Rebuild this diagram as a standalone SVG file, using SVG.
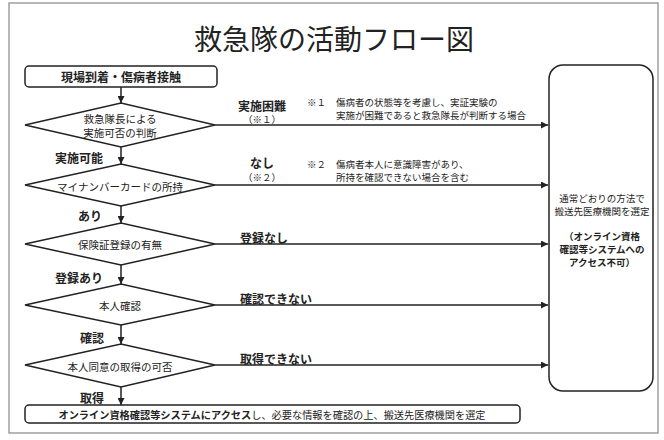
<svg xmlns="http://www.w3.org/2000/svg" width="664" height="440" viewBox="0 0 664 440">
<defs>
<marker id="ah" viewBox="0 0 10 10" refX="10" refY="5" markerWidth="7" markerHeight="7" markerUnits="userSpaceOnUse" orient="auto"><path d="M0,0 L10,5 L0,10 z" fill="#222"/></marker>
<style>
text{font-family:"Noto Sans CJK JP","Noto Sans",sans-serif;fill:#222;dominant-baseline:central}
.t{font-size:28px;text-anchor:middle}
.b{font-weight:700;font-size:12px}
.m{text-anchor:middle}
.d{font-size:10.5px;text-anchor:middle}
.n{font-size:9.5px}
.shape{fill:#fff;stroke:#222;stroke-width:1.5}
.c{stroke:#222;stroke-width:1.5;fill:none;marker-end:url(#ah)}
</style>
</defs>
<rect width="664" height="440" fill="#fff"/>
<rect x="9" y="3" width="649" height="430" fill="#fff" stroke="#888" stroke-width="1.2"/>
<text class="t" x="334" y="38">救急隊の活動フロー図</text>

<g id="connectors">
<line class="c" x1="121" y1="87" x2="121" y2="103"/>
<line class="c" x1="121" y1="147" x2="121" y2="164"/>
<line class="c" x1="121" y1="206" x2="121" y2="223"/>
<line class="c" x1="121" y1="265" x2="121" y2="284"/>
<line class="c" x1="121" y1="325" x2="121" y2="344"/>
<line class="c" x1="121" y1="387" x2="121" y2="405"/>
<line class="c" x1="215" y1="125" x2="548" y2="125"/>
<line class="c" x1="215" y1="185" x2="548" y2="185"/>
<line class="c" x1="215" y1="244" x2="548" y2="244"/>
<line class="c" x1="215" y1="305" x2="548" y2="305"/>
<line class="c" x1="215" y1="365" x2="548" y2="365"/>
<text class="b" x="55" y="157">実施可能</text>
<text class="b" x="78" y="215">あり</text>
<text class="b" x="55" y="277">登録あり</text>
<text class="b" x="80" y="337">確認</text>
<text class="b" x="80" y="397">取得</text>
<text class="b m" x="262" y="105">実施困難</text>
<text class="n m" x="262" y="119">（※１）</text>
<text class="b m" x="262" y="162">なし</text>
<text class="n m" x="262" y="177">（※２）</text>
<text class="b" x="240" y="237">登録なし</text>
<text class="b" x="240" y="298">確認できない</text>
<text class="b" x="240" y="358">取得できない</text>
</g>

<g id="note1">
<text class="n" x="307" y="102">※１</text>
<text class="n" x="336" y="102">傷病者の状態等を考慮し、実証実験の</text>
<text class="n" x="336" y="115">実施が困難であると救急隊長が判断する場合</text>
</g>
<g id="note2">
<text class="n" x="307" y="164">※２</text>
<text class="n" x="336" y="164">傷病者本人に意識障害があり、</text>
<text class="n" x="336" y="177">所持を確認できない場合を含む</text>
</g>

<g id="start">
<rect class="shape" x="25" y="66" width="192" height="21" rx="4"/>
<text class="b m" x="121" y="76.5">現場到着・傷病者接触</text>
</g>
<g id="d1">
<polygon class="shape" points="25,125 121,103 215,125 121,147"/>
<text class="d" x="120" y="118.5">救急隊長による</text>
<text class="d" x="120" y="132.5">実施可否の判断</text>
</g>
<g id="d2">
<polygon class="shape" points="25,185 121,164 215,185 121,206"/>
<text class="d" x="120" y="186">マイナンバーカードの所持</text>
</g>
<g id="d3">
<polygon class="shape" points="25,244 121,223 215,244 121,265"/>
<text class="d" x="120" y="244">保険証登録の有無</text>
</g>
<g id="d4">
<polygon class="shape" points="25,305 121,284 215,305 121,325"/>
<text class="d" x="120" y="305">本人確認</text>
</g>
<g id="d5">
<polygon class="shape" points="25,365 121,344 215,365 121,387"/>
<text class="d" x="120" y="366">本人同意の取得の可否</text>
</g>
<g id="end">
<rect class="shape" x="25" y="405" width="495" height="18" rx="4"/>
<text x="272" y="414" text-anchor="middle" font-size="10.2"><tspan font-weight="700">オンライン資格確認等システムにアクセス</tspan>し、必要な情報を確認の上、搬送先医療機関を選定</text>
</g>
<g id="right">
<rect class="shape" x="549" y="65" width="104" height="326" rx="14"/>
<text class="n m" x="602" y="198">通常どおりの方法で</text>
<text class="n m" x="602" y="211">搬送先医療機関を選定</text>
<text class="m" x="602" y="236" font-size="9.5" font-weight="700">（オンライン資格</text>
<text class="m" x="602" y="249" font-size="9.5" font-weight="700">確認等システムへの</text>
<text class="m" x="602" y="262" font-size="9.5" font-weight="700">アクセス不可）</text>
</g>
</svg>
